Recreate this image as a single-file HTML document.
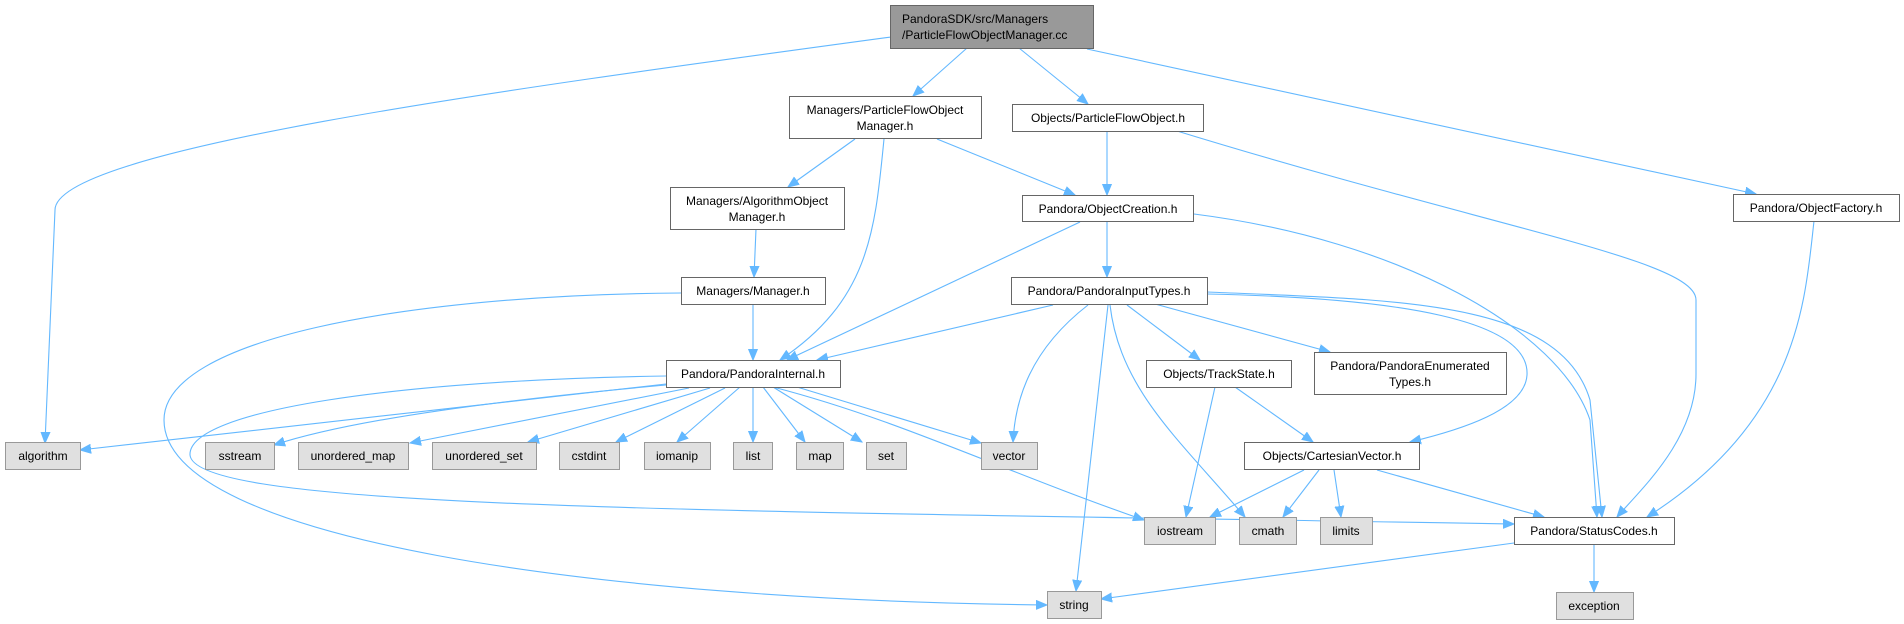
<!DOCTYPE html>
<html><head><meta charset="utf-8"><style>
html,body{margin:0;padding:0;background:#fff;}
svg{display:block;}
text{font-family:"Liberation Sans",Arial,sans-serif;font-size:12px;fill:#000;}
.n{fill:#fff;stroke:#666;stroke-width:1;}
.l{fill:#e0e0e0;stroke:#999;stroke-width:1;}
.r{fill:#999;stroke:#666;stroke-width:1;}
.e{fill:none;stroke:#63b8ff;stroke-width:1.1;marker-end:url(#a);}
</style></head><body>
<svg width="1904" height="624" viewBox="0 0 1904 624" xmlns="http://www.w3.org/2000/svg">
<defs><marker id="a" markerUnits="userSpaceOnUse" markerWidth="12" markerHeight="10" refX="11" refY="5" orient="auto"><path d="M0,0.5 L11,5 L0,9.5 z" fill="#63b8ff" stroke="#63b8ff"/></marker></defs>
<g>
<path class="e" d="M891,37 C500,90 55,150 55,210 L45,443"/>
<path class="e" d="M967,48 L913,96"/>
<path class="e" d="M1019,48 L1088,104"/>
<path class="e" d="M1087,49 L1756,194"/>
<path class="e" d="M855,139 L788,187"/>
<path class="e" d="M884,139 C875,230 870,300 780,360"/>
<path class="e" d="M937,139 L1075,195"/>
<path class="e" d="M1107,131 L1107,195"/>
<path class="e" d="M1177,131 C1500,230 1696,260 1696,300 L1696,374 C1696,440 1640,490 1617,517"/>
<path class="e" d="M1814,221 C1805,300 1800,420 1647,517"/>
<path class="e" d="M1194,214 C1400,240 1560,330 1590,420 L1597,517"/>
<path class="e" d="M1207,292 C1400,300 1560,300 1590,400 L1602,517"/>
<path class="e" d="M1207,294 C1400,298 1530,320 1527,375 C1525,410 1460,430 1410,442"/>
<path class="e" d="M756,229 L754,277"/>
<path class="e" d="M753,304 L753,360"/>
<path class="e" d="M681,293 C400,295 164,340 164,420 C164,540 600,600 1047,605"/>
<path class="e" d="M666,376 C400,380 188,410 190,455 C195,510 700,510 1514,524"/>
<path class="e" d="M773,387 C900,420 1000,470 1144,520"/>
<path class="e" d="M666,384 L80,450"/>
<path class="e" d="M666,385 C500,400 350,420 274,445"/>
<path class="e" d="M689,388 L410,443"/>
<path class="e" d="M710,388 L528,442"/>
<path class="e" d="M725,388 L616,442"/>
<path class="e" d="M740,387 L677,442"/>
<path class="e" d="M753,387 L753,442"/>
<path class="e" d="M763,387 L805,442"/>
<path class="e" d="M773,387 L862,442"/>
<path class="e" d="M797,387 L981,443"/>
<path class="e" d="M1053,305 L817,360"/>
<path class="e" d="M1080,222 L787,360"/>
<path class="e" d="M1107,222 L1107,277"/>
<path class="e" d="M1088,305 C1030,350 1015,400 1013,442"/>
<path class="e" d="M1108,305 L1076,591"/>
<path class="e" d="M1110,305 C1120,390 1180,440 1245,517"/>
<path class="e" d="M1127,305 L1200,360"/>
<path class="e" d="M1155,304 L1330,352"/>
<path class="e" d="M1215,387 L1186,517"/>
<path class="e" d="M1235,387 L1313,442"/>
<path class="e" d="M1304,470 L1210,517"/>
<path class="e" d="M1319,470 L1283,517"/>
<path class="e" d="M1334,470 L1341,517"/>
<path class="e" d="M1377,470 L1544,517"/>
<path class="e" d="M1514,543 L1101,599"/>
<path class="e" d="M1594,544 L1594,592"/>
</g>
<g>
<rect class="r" x="890.5" y="5.5" width="203" height="43"/>
<text x="902" y="23">PandoraSDK/src/Managers</text>
<text x="902" y="39">/ParticleFlowObjectManager.cc</text>

<rect class="n" x="789.5" y="96.5" width="192" height="42"/>
<text x="885" y="114" text-anchor="middle">Managers/ParticleFlowObject</text>
<text x="885" y="130" text-anchor="middle">Manager.h</text>

<rect class="n" x="1012.5" y="104.5" width="191" height="27"/>
<text x="1108" y="122" text-anchor="middle">Objects/ParticleFlowObject.h</text>

<rect class="n" x="670.5" y="187.5" width="174" height="42"/>
<text x="757" y="205" text-anchor="middle">Managers/AlgorithmObject</text>
<text x="757" y="221" text-anchor="middle">Manager.h</text>

<rect class="n" x="1022.5" y="195.5" width="171" height="26"/>
<text x="1108" y="213" text-anchor="middle">Pandora/ObjectCreation.h</text>

<rect class="n" x="1733.5" y="194.5" width="166" height="27"/>
<text x="1816" y="212" text-anchor="middle">Pandora/ObjectFactory.h</text>

<rect class="n" x="681.5" y="277.5" width="144" height="27"/>
<text x="753" y="295" text-anchor="middle">Managers/Manager.h</text>

<rect class="n" x="1011.5" y="277.5" width="196" height="27"/>
<text x="1109" y="295" text-anchor="middle">Pandora/PandoraInputTypes.h</text>

<rect class="n" x="666.5" y="360.5" width="174" height="27"/>
<text x="753" y="378" text-anchor="middle">Pandora/PandoraInternal.h</text>

<rect class="n" x="1146.5" y="360.5" width="145" height="27"/>
<text x="1219" y="378" text-anchor="middle">Objects/TrackState.h</text>

<rect class="n" x="1314.5" y="352.5" width="192" height="42"/>
<text x="1410" y="370" text-anchor="middle">Pandora/PandoraEnumerated</text>
<text x="1410" y="386" text-anchor="middle">Types.h</text>

<rect class="l" x="5.5" y="442.5" width="75" height="27"/><text x="43" y="460" text-anchor="middle">algorithm</text>
<rect class="l" x="205.5" y="442.5" width="69" height="27"/><text x="240" y="460" text-anchor="middle">sstream</text>
<rect class="l" x="298.5" y="442.5" width="110" height="27"/><text x="353" y="460" text-anchor="middle">unordered_map</text>
<rect class="l" x="432.5" y="442.5" width="104" height="27"/><text x="484" y="460" text-anchor="middle">unordered_set</text>
<rect class="l" x="559.5" y="442.5" width="60" height="27"/><text x="589" y="460" text-anchor="middle">cstdint</text>
<rect class="l" x="644.5" y="442.5" width="66" height="27"/><text x="677" y="460" text-anchor="middle">iomanip</text>
<rect class="l" x="733.5" y="442.5" width="39" height="27"/><text x="753" y="460" text-anchor="middle">list</text>
<rect class="l" x="796.5" y="442.5" width="47" height="27"/><text x="820" y="460" text-anchor="middle">map</text>
<rect class="l" x="866.5" y="442.5" width="40" height="27"/><text x="886" y="460" text-anchor="middle">set</text>
<rect class="l" x="981.5" y="442.5" width="56" height="27"/><text x="1009" y="460" text-anchor="middle">vector</text>

<rect class="n" x="1244.5" y="442.5" width="175" height="27"/>
<text x="1332" y="460" text-anchor="middle">Objects/CartesianVector.h</text>

<rect class="l" x="1144.5" y="517.5" width="71" height="27"/><text x="1180" y="535" text-anchor="middle">iostream</text>
<rect class="l" x="1239.5" y="517.5" width="57" height="27"/><text x="1268" y="535" text-anchor="middle">cmath</text>
<rect class="l" x="1320.5" y="517.5" width="52" height="27"/><text x="1346" y="535" text-anchor="middle">limits</text>

<rect class="n" x="1514.5" y="517.5" width="160" height="27"/>
<text x="1594" y="535" text-anchor="middle">Pandora/StatusCodes.h</text>

<rect class="l" x="1047.5" y="591.5" width="54" height="27"/><text x="1074" y="609" text-anchor="middle">string</text>
<rect class="l" x="1556.5" y="592.5" width="77" height="27"/><text x="1594" y="610" text-anchor="middle">exception</text>
</g>
</svg>
</body></html>
